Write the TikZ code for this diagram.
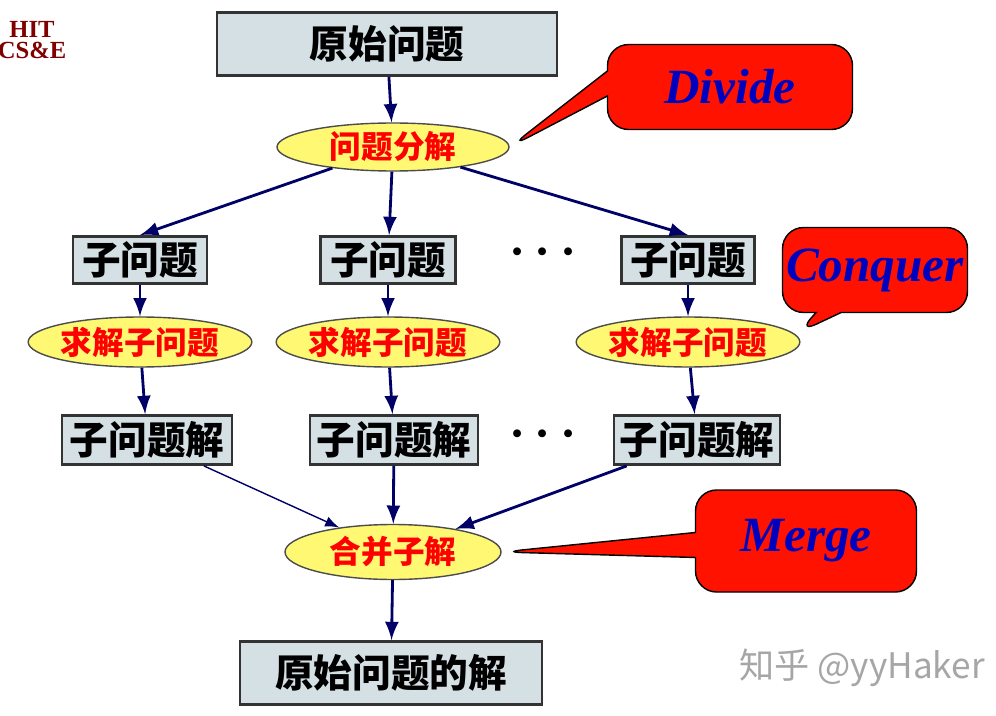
\documentclass[tikz,border=0pt]{standalone}
\usepackage{fontspec}
\setmainfont{Liberation Serif}
\newfontfamily\cjk{Noto Sans CJK SC}
\usetikzlibrary{shapes.geometric, shapes.callouts, positioning, arrows, calc}

\tikzset{
  box/.style={draw=black!80, thick, fill=cyan!25!gray!30, font=\cjk\bfseries\fontsize{11}{11}\selectfont,
    inner sep=0pt},
  oval/.style={draw=black!70, ellipse, fill=yellow!55, text=red,
    font=\cjk\bfseries\fontsize{9}{9}\selectfont, inner sep=0pt},
  note/.style={rectangle callout, draw=black, fill=red!85!orange, rounded corners=6pt,
    text=blue!75!black, font=\bfseries\itshape\fontsize{14}{14}\selectfont, inner sep=0pt},
  link/.style={draw=blue!40!black, thick, -latex}
}

\begin{document}
\begin{tikzpicture}[x=1cm, y=-1cm]
  \useasboundingbox (0,0) rectangle (9.96,7.16);
  \node [text=red!50!black, font=\bfseries\scriptsize, align=center] (hit) at (0.32,0.40)
    {HIT\\[-2pt]CS\&E};%

  \node [box, minimum width=3.4cm, minimum height=0.63cm] (orig) at (3.87,0.44) {原始问题};%
  \node [oval, minimum width=2.32cm, minimum height=0.48cm] (div) at (3.93,1.47) {问题分解};%

  \node [box, minimum width=1.34cm, minimum height=0.47cm] (sa) at (1.40,2.60) {子问题};%
  \node [box, minimum width=1.35cm, minimum height=0.47cm] (sb) at (3.88,2.60) {子问题};%
  \node [box, minimum width=1.33cm, minimum height=0.47cm] (sc) at (6.88,2.60) {子问题};%
  \node [font=\Large\boldmath] (dt) at (5.43,2.53) {$\cdots$};%

  \node [oval, minimum width=2.0cm, minimum height=0.5cm] (ca) at (1.40,3.42) {求解子问题};%
  \node [oval, minimum width=2.0cm, minimum height=0.5cm] (cb) at (3.88,3.42) {求解子问题};%
  \node [oval, minimum width=2.0cm, minimum height=0.5cm] (cc) at (6.88,3.42) {求解子问题};%

  \node [box, minimum width=1.70cm, minimum height=0.49cm] (ra) at (1.47,4.40) {子问题解};%
  \node [box, minimum width=1.68cm, minimum height=0.49cm] (rb) at (3.94,4.40) {子问题解};%
  \node [box, minimum width=1.66cm, minimum height=0.49cm] (rc) at (6.97,4.40) {子问题解};%
  \node [font=\Large\boldmath] (db) at (5.43,4.35) {$\cdots$};%

  \node [oval, minimum width=2.16cm, minimum height=0.55cm] (mrg) at (3.93,5.52) {合并子解};%
  \node [box, minimum width=3.02cm, minimum height=0.63cm] (fin) at (3.91,6.73) {原始问题的解};%

  \node [note, minimum width=2.45cm, minimum height=0.85cm,
    callout absolute pointer={(div.east)}] (nd) at (7.30,0.87) {Divide};%
  \node [note, minimum width=1.85cm, minimum height=0.85cm,
    callout absolute pointer={($(cc.east)+(-0.03,-0.09)$)}] (nc) at (8.75,2.70) {Conquer};%
  \node [note, minimum width=2.21cm, minimum height=1.02cm,
    callout absolute pointer={(mrg.east)}] (nm) at (8.06,5.41) {Merge};%

  \node [text=gray!70, font=\cjk\fontsize{10}{10}\selectfont] (wm)
    at (8.62,6.68) {知乎 @yyHaker};%

  \draw [link] (orig) -- (div);%
  \draw [link] (div) -- (sa.north);%
  \draw [link] (div) -- (sb);%
  \draw [link] (div) -- (sc.north);%
  \foreach \s/\c/\r in {sa/ca/ra, sb/cb/rb, sc/cc/rc} {
    \draw [link] (\s) -- (\c);
    \draw [link] (\c) -- (\r);
  }
  \draw [link, thin] (ra) -- (mrg);%
  \draw [link] (rb) -- (mrg);%
  \draw [link] (rc) -- (mrg);%
  \draw [link] (mrg) -- (fin);%
\end{tikzpicture}
\end{document}
